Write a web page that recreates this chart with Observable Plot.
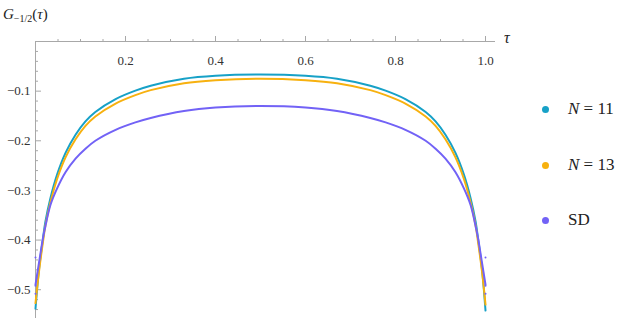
<!DOCTYPE html>
<html><head><meta charset="utf-8">
<script src="https://cdn.jsdelivr.net/npm/d3@7"></script>
<script src="https://cdn.jsdelivr.net/npm/@observablehq/plot@0.6"></script>
<style>
body{margin:0;background:#fff;font-family:'Liberation Serif','DejaVu Serif','Times New Roman',serif;}
#wrap{position:relative;width:634px;height:328px;overflow:hidden;}
#wrap svg{position:absolute;left:0;top:0;}
</style></head><body><div id="wrap"></div>
<script>
// tau grid
const tau = [0, 0.0074, 0.017, 0.022, 0.033, 0.048, 0.067, 0.089, 0.111, 0.133, 0.178, 0.222, 0.256, 0.33, 0.40, 0.5,
             0.60, 0.67, 0.744, 0.778, 0.822, 0.867, 0.889, 0.911, 0.933, 0.952, 0.967, 0.978, 0.983, 0.9926, 1];
// series values
const n11 = [-0.538, -0.462, -0.394, -0.363, -0.316, -0.268, -0.224, -0.188, -0.161, -0.142, -0.116, -0.099, -0.089, -0.075, -0.069, -0.0665,
             -0.069, -0.075, -0.089, -0.099, -0.116, -0.142, -0.161, -0.188, -0.224, -0.268, -0.316, -0.363, -0.394, -0.462, -0.542];
const n13 = [-0.527, -0.466, -0.401, -0.371, -0.325, -0.277, -0.233, -0.197, -0.170, -0.151, -0.125, -0.108, -0.098, -0.084, -0.078, -0.075,
             -0.078, -0.084, -0.098, -0.108, -0.125, -0.151, -0.170, -0.197, -0.233, -0.277, -0.325, -0.371, -0.401, -0.466, -0.530];
const sd  = [-0.490, -0.448, -0.394, -0.372, -0.330, -0.296, -0.263, -0.236, -0.216, -0.200, -0.178, -0.163, -0.154, -0.140, -0.133, -0.130,
             -0.133, -0.140, -0.154, -0.163, -0.178, -0.200, -0.216, -0.236, -0.263, -0.296, -0.330, -0.372, -0.394, -0.448, -0.490];
// stray SD sample points at the ends
const sdDotTau = [0, 0, 0, 1, 1, 1];
const sdDotVal = [-0.435, -0.492, -0.508, -0.435, -0.492, -0.508];
// labels and ticks
const seriesNames = ["N = 11", "N = 13", "SD"];
const colors = ["#17a1c7", "#f7b10f", "#7262f6"];
const xMajor = [0.2, 0.4, 0.6, 0.8, 1.0];
const xMinor = [0.05, 0.1, 0.15, 0.25, 0.3, 0.35, 0.45, 0.5, 0.55, 0.65, 0.7, 0.75, 0.85, 0.9, 0.95];
const yMajor = [-0.1, -0.2, -0.3, -0.4, -0.5];
const yMinor = [-0.02, -0.04, -0.06, -0.08, -0.12, -0.14, -0.16, -0.18, -0.22, -0.24, -0.26, -0.28,
                -0.32, -0.34, -0.36, -0.38, -0.42, -0.44, -0.46, -0.48, -0.52, -0.54];

const data = [];
[n11, n13, sd].forEach((arr, k) => tau.forEach((t, i) => data.push({t, v: arr[i], s: seriesNames[k]})));
const dots = sdDotTau.map((t, i) => ({t, v: sdDotVal[i]}));

const SERIF = "'Liberation Serif','DejaVu Serif','Times New Roman',serif";
const axisGray = "#a8a8a8";
const fmtY = d => (d < 0 ? "\u2212" : "") + Math.abs(d).toFixed(1);
const plot = Plot.plot({
  width: 634, height: 328,
  marginLeft: 35, marginRight: 139, marginTop: 41, marginBottom: 10,
  x: {domain: [0, 1.0222]},
  y: {domain: [-0.558, 0]},
  color: {domain: seriesNames, range: colors},
  style: {fontFamily: SERIF, fontSize: "13px", color: "#333", background: "white"},
  marks: [
    Plot.ruleY([0], {stroke: axisGray}),
    Plot.ruleX([0], {stroke: axisGray}),
    Plot.axisX(xMinor, {anchor: "top", tickSize: 3, tickFormat: () => "", stroke: axisGray, label: null}),
    Plot.axisX(xMajor, {anchor: "top", tickSize: 6, tickFormat: () => "", stroke: axisGray, label: null}),
    Plot.text(xMajor, {x: d => d, text: d => d.toFixed(1), frameAnchor: "top", dy: 14, fill: "#333"}),
    Plot.axisY(yMinor, {anchor: "left", tickSize: -3, tickFormat: () => "", stroke: axisGray, label: null}),
    Plot.axisY(yMajor, {anchor: "left", tickSize: -6, tickPadding: 11, tickFormat: fmtY, stroke: axisGray, label: null}),
    Plot.line(data, {x: "t", y: "v", z: "s", stroke: "s", strokeWidth: 2, curve: "catmull-rom"}),
    Plot.dot(dots, {x: "t", y: "v", r: 1, fill: colors[2], stroke: null})
  ]
});
plot.querySelectorAll("text").forEach(t => t.setAttribute("font-family", SERIF));
const wrap = document.getElementById("wrap");
wrap.appendChild(plot);

function addLabel(html, left, top, size, lh) {
  const d = document.createElement("div");
  d.style.cssText = `position:absolute;left:${left}px;top:${top}px;font-size:${size}px;line-height:${lh}px;` +
    `font-family:${SERIF};color:#222;white-space:nowrap;`;
  d.innerHTML = html;
  wrap.appendChild(d);
}
// y-axis title
addLabel('<i>G</i><sub style="font-size:10px;vertical-align:-3px">−1/2</sub>(<i>τ</i>)', 3, 4.6, 15, 18);
// x-axis title
addLabel('<i>τ</i>', 504, 28.6, 16, 18);
// legend
const legendTop = [109, 165, 220];
seriesNames.forEach((name, k) => {
  const dot = document.createElement("div");
  dot.style.cssText = `position:absolute;width:7px;height:7px;border-radius:50%;background:${colors[k]};` +
    `left:${545 - 3.5}px;top:${legendTop[k] - 3.5}px;`;
  wrap.appendChild(dot);
  const html = name.startsWith("N") ? '<i>N</i>&nbsp;=&nbsp;' + name.split("= ")[1] : name;
  addLabel(html, 568, legendTop[k] - 10, 17, 20);
});
</script>
</body></html>
